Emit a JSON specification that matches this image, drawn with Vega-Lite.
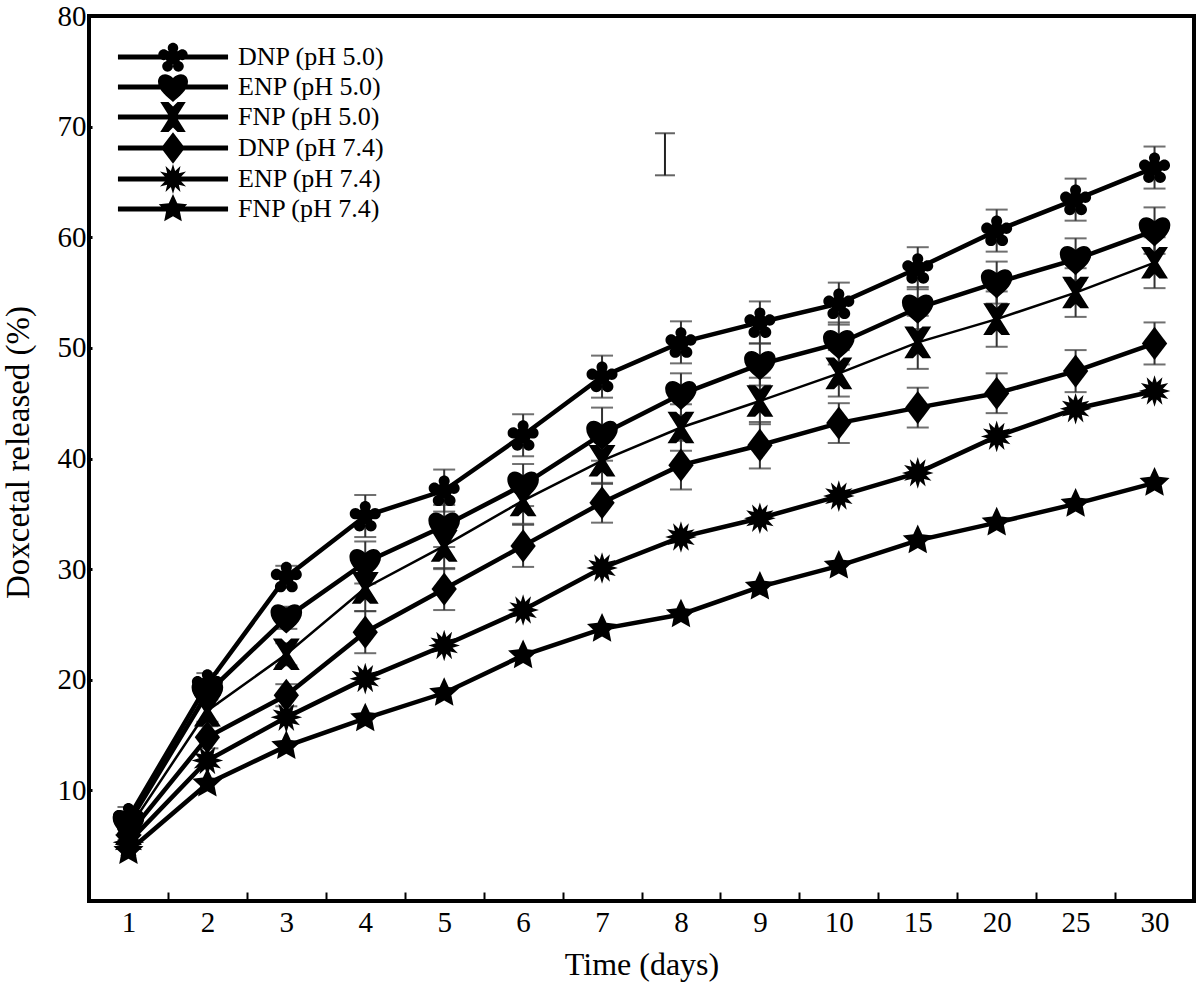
{
  "$schema": "https://vega.github.io/schema/vega-lite/v6.json",
  "width": 1105,
  "height": 885,
  "autosize": {"type": "none"},
  "padding": {"left": 89, "top": 16, "right": 6, "bottom": 86},
  "background": "white",
  "config": {
    "view": {"stroke": "black", "strokeWidth": 4},
    "font": "Liberation Serif"
  },
  "resolve": {"scale": {"shape": "independent"}, "legend": {"shape": "independent"}},
  "datasets": {
    "release": [
      {"series": "DNP (pH 5.0)", "day": "1", "value": 7.5, "err": 1.0},
      {"series": "DNP (pH 5.0)", "day": "2", "value": 19.6, "err": 1.0},
      {"series": "DNP (pH 5.0)", "day": "3", "value": 29.3, "err": 1.0},
      {"series": "DNP (pH 5.0)", "day": "4", "value": 34.8, "err": 1.9},
      {"series": "DNP (pH 5.0)", "day": "5", "value": 37.1, "err": 1.9},
      {"series": "DNP (pH 5.0)", "day": "6", "value": 42.1, "err": 1.9},
      {"series": "DNP (pH 5.0)", "day": "7", "value": 47.4, "err": 1.9},
      {"series": "DNP (pH 5.0)", "day": "8", "value": 50.5, "err": 1.9},
      {"series": "DNP (pH 5.0)", "day": "9", "value": 52.3, "err": 1.9},
      {"series": "DNP (pH 5.0)", "day": "10", "value": 54.0, "err": 1.9},
      {"series": "DNP (pH 5.0)", "day": "15", "value": 57.2, "err": 1.9},
      {"series": "DNP (pH 5.0)", "day": "20", "value": 60.6, "err": 1.9},
      {"series": "DNP (pH 5.0)", "day": "25", "value": 63.4, "err": 1.9},
      {"series": "DNP (pH 5.0)", "day": "30", "value": 66.3, "err": 1.9},
      {"series": "ENP (pH 5.0)", "day": "1", "value": 7.0, "err": 1.0},
      {"series": "ENP (pH 5.0)", "day": "2", "value": 18.8, "err": 1.0},
      {"series": "ENP (pH 5.0)", "day": "3", "value": 25.6, "err": 1.0},
      {"series": "ENP (pH 5.0)", "day": "4", "value": 30.6, "err": 1.9},
      {"series": "ENP (pH 5.0)", "day": "5", "value": 33.9, "err": 1.9},
      {"series": "ENP (pH 5.0)", "day": "6", "value": 37.6, "err": 1.9},
      {"series": "ENP (pH 5.0)", "day": "7", "value": 42.2, "err": 2.4},
      {"series": "ENP (pH 5.0)", "day": "8", "value": 45.8, "err": 1.9},
      {"series": "ENP (pH 5.0)", "day": "9", "value": 48.5, "err": 1.9},
      {"series": "ENP (pH 5.0)", "day": "10", "value": 50.4, "err": 1.9},
      {"series": "ENP (pH 5.0)", "day": "15", "value": 53.6, "err": 1.9},
      {"series": "ENP (pH 5.0)", "day": "20", "value": 55.9, "err": 1.9},
      {"series": "ENP (pH 5.0)", "day": "25", "value": 58.0, "err": 1.9},
      {"series": "ENP (pH 5.0)", "day": "30", "value": 60.6, "err": 2.1},
      {"series": "FNP (pH 5.0)", "day": "1", "value": 6.5, "err": 1.0},
      {"series": "FNP (pH 5.0)", "day": "2", "value": 17.2, "err": 1.0},
      {"series": "FNP (pH 5.0)", "day": "3", "value": 22.3, "err": 1.0},
      {"series": "FNP (pH 5.0)", "day": "4", "value": 28.3, "err": 2.1},
      {"series": "FNP (pH 5.0)", "day": "5", "value": 32.1, "err": 2.1},
      {"series": "FNP (pH 5.0)", "day": "6", "value": 36.2, "err": 2.1},
      {"series": "FNP (pH 5.0)", "day": "7", "value": 39.8, "err": 2.1},
      {"series": "FNP (pH 5.0)", "day": "8", "value": 42.8, "err": 2.1},
      {"series": "FNP (pH 5.0)", "day": "9", "value": 45.2, "err": 2.1},
      {"series": "FNP (pH 5.0)", "day": "10", "value": 47.7, "err": 2.1},
      {"series": "FNP (pH 5.0)", "day": "15", "value": 50.5, "err": 2.4},
      {"series": "FNP (pH 5.0)", "day": "20", "value": 52.6, "err": 2.5},
      {"series": "FNP (pH 5.0)", "day": "25", "value": 55.0, "err": 2.2},
      {"series": "FNP (pH 5.0)", "day": "30", "value": 57.7, "err": 2.3},
      {"series": "DNP (pH 7.4)", "day": "1", "value": 6.0, "err": 1.0},
      {"series": "DNP (pH 7.4)", "day": "2", "value": 14.8, "err": 1.0},
      {"series": "DNP (pH 7.4)", "day": "3", "value": 18.6, "err": 1.0},
      {"series": "DNP (pH 7.4)", "day": "4", "value": 24.3, "err": 1.9},
      {"series": "DNP (pH 7.4)", "day": "5", "value": 28.2, "err": 1.9},
      {"series": "DNP (pH 7.4)", "day": "6", "value": 32.1, "err": 1.9},
      {"series": "DNP (pH 7.4)", "day": "7", "value": 36.0, "err": 1.8},
      {"series": "DNP (pH 7.4)", "day": "8", "value": 39.4, "err": 2.2},
      {"series": "DNP (pH 7.4)", "day": "9", "value": 41.2, "err": 2.1},
      {"series": "DNP (pH 7.4)", "day": "10", "value": 43.2, "err": 1.8},
      {"series": "DNP (pH 7.4)", "day": "15", "value": 44.6, "err": 1.8},
      {"series": "DNP (pH 7.4)", "day": "20", "value": 45.9, "err": 1.8},
      {"series": "DNP (pH 7.4)", "day": "25", "value": 47.9, "err": 1.9},
      {"series": "DNP (pH 7.4)", "day": "30", "value": 50.4, "err": 1.9},
      {"series": "ENP (pH 7.4)", "day": "1", "value": 5.3},
      {"series": "ENP (pH 7.4)", "day": "2", "value": 12.7},
      {"series": "ENP (pH 7.4)", "day": "3", "value": 16.6},
      {"series": "ENP (pH 7.4)", "day": "4", "value": 20.1},
      {"series": "ENP (pH 7.4)", "day": "5", "value": 23.1},
      {"series": "ENP (pH 7.4)", "day": "6", "value": 26.3},
      {"series": "ENP (pH 7.4)", "day": "7", "value": 30.1},
      {"series": "ENP (pH 7.4)", "day": "8", "value": 32.9},
      {"series": "ENP (pH 7.4)", "day": "9", "value": 34.6},
      {"series": "ENP (pH 7.4)", "day": "10", "value": 36.6},
      {"series": "ENP (pH 7.4)", "day": "15", "value": 38.7},
      {"series": "ENP (pH 7.4)", "day": "20", "value": 42.0},
      {"series": "ENP (pH 7.4)", "day": "25", "value": 44.5},
      {"series": "ENP (pH 7.4)", "day": "30", "value": 46.1},
      {"series": "FNP (pH 7.4)", "day": "1", "value": 4.5},
      {"series": "FNP (pH 7.4)", "day": "2", "value": 10.6},
      {"series": "FNP (pH 7.4)", "day": "3", "value": 14.0},
      {"series": "FNP (pH 7.4)", "day": "4", "value": 16.5},
      {"series": "FNP (pH 7.4)", "day": "5", "value": 18.8},
      {"series": "FNP (pH 7.4)", "day": "6", "value": 22.2},
      {"series": "FNP (pH 7.4)", "day": "7", "value": 24.6},
      {"series": "FNP (pH 7.4)", "day": "8", "value": 25.9},
      {"series": "FNP (pH 7.4)", "day": "9", "value": 28.4},
      {"series": "FNP (pH 7.4)", "day": "10", "value": 30.3},
      {"series": "FNP (pH 7.4)", "day": "15", "value": 32.6},
      {"series": "FNP (pH 7.4)", "day": "20", "value": 34.2},
      {"series": "FNP (pH 7.4)", "day": "25", "value": 35.9},
      {"series": "FNP (pH 7.4)", "day": "30", "value": 37.8}
    ],
    "scalebar": [
      {"day": "8", "value": 67.5, "err": 1.9}
    ]
  },
  "encoding": {
    "x": {
      "field": "day",
      "type": "ordinal",
      "scale": {
        "type": "band",
        "domain": ["1", "2", "3", "4", "5", "6", "7", "8", "9", "10", "15", "20", "25", "30"],
        "paddingInner": 0,
        "paddingOuter": 0
      },
      "axis": {
        "title": "Time (days)",
        "tickBand": "extent",
        "domain": false,
        "grid": false,
        "labelAngle": 0,
        "labelFont": "Liberation Serif",
        "labelFontSize": 29,
        "labelColor": "black",
        "labelPadding": 16,
        "tickColor": "black",
        "tickSize": -9,
        "tickWidth": 2,
        "titleFont": "Liberation Serif",
        "titleFontSize": 32,
        "titleFontWeight": "normal",
        "titleColor": "black",
        "titlePadding": 12
      }
    },
    "y": {
      "field": "value",
      "type": "quantitative",
      "scale": {"domain": [0, 80], "nice": false, "zero": false},
      "axis": {
        "title": "Doxcetal released (%)",
        "values": [10, 20, 30, 40, 50, 60, 70, 80],
        "domain": false,
        "grid": false,
        "labelFont": "Liberation Serif",
        "labelFontSize": 29,
        "labelColor": "black",
        "labelPadding": 6,
        "tickColor": "black",
        "tickSize": -3,
        "tickWidth": 3,
        "titleFont": "Liberation Serif",
        "titleFontSize": 33,
        "titleFontWeight": "normal",
        "titleColor": "black",
        "titleX": -54,
        "titleY": 436
      }
    }
  },
  "layer": [
    {
      "data": {"name": "release"},
      "transform": [{"filter": "isValid(datum.err)"}],
      "mark": {
        "type": "errorbar",
        "ticks": {"size": 22, "thickness": 2, "color": "#333333"},
        "rule": {"strokeWidth": 2, "color": "#333333"}
      },
      "encoding": {
        "yError": {"field": "err"}
      }
    },
    {
      "data": {"name": "scalebar"},
      "mark": {
        "type": "errorbar",
        "ticks": {"size": 20, "thickness": 2, "color": "#222222", "xOffset": -16},
        "rule": {"strokeWidth": 2, "color": "#222222", "xOffset": -16}
      },
      "encoding": {
        "yError": {"field": "err"}
      }
    },
    {
      "data": {"name": "release"},
      "mark": {"type": "line", "color": "black"},
      "encoding": {
        "detail": {"field": "series", "type": "nominal"},
        "strokeWidth": {
          "condition": {"test": "datum.series === 'FNP (pH 5.0)'", "value": 2.5},
          "value": 4.5
        }
      }
    },
    {
      "data": {"name": "release"},
      "mark": {"type": "point", "filled": true, "color": "black", "size": 1000, "opacity": 1, "strokeWidth": 0},
      "encoding": {
        "shape": {
          "field": "series",
          "type": "nominal",
          "scale": {
            "domain": ["DNP (pH 5.0)", "ENP (pH 5.0)", "FNP (pH 5.0)", "DNP (pH 7.4)", "ENP (pH 7.4)", "FNP (pH 7.4)"],
            "range": [
              "M-0.5,0 A0.5,0.5 0 1,1 0.5,0 A0.5,0.5 0 1,1 -0.5,0 Z M-0.35,-0.6 A0.35,0.35 0 1,1 0.35,-0.6 A0.35,0.35 0 1,1 -0.35,-0.6 Z M0.26,-0.15 A0.36,0.36 0 1,1 0.98,-0.15 A0.36,0.36 0 1,1 0.26,-0.15 Z M-0.98,-0.15 A0.36,0.36 0 1,1 -0.26,-0.15 A0.36,0.36 0 1,1 -0.98,-0.15 Z M0,0.62 A0.36,0.36 0 1,1 0.72,0.62 A0.36,0.36 0 1,1 0,0.62 Z M-0.72,0.62 A0.36,0.36 0 1,1 0,0.62 A0.36,0.36 0 1,1 -0.72,0.62 Z",
              "M0,1 C-0.35,0.65 -1,0.25 -1,-0.35 C-1,-0.85 -0.45,-1.05 0,-0.6 C0.45,-1.05 1,-0.85 1,-0.35 C1,0.25 0.35,0.65 0,1 Z",
              "M-0.85,-1 L-0.3,-1 L0,-0.7 L0.3,-1 L0.85,-1 L0.22,0 L0.85,1 L0.3,1 L0,0.7 L-0.3,1 L-0.85,1 L-0.22,0 Z",
              "M0,-1.05 L0.8,0 L0,1.05 L-0.8,0 Z",
              "M0,-1 L0.142,-0.531 L0.5,-0.866 L0.389,-0.389 L0.866,-0.5 L0.531,-0.142 L1,0 L0.531,0.142 L0.866,0.5 L0.389,0.389 L0.5,0.866 L0.142,0.531 L0,1 L-0.142,0.531 L-0.5,0.866 L-0.389,0.389 L-0.866,0.5 L-0.531,0.142 L-1,0 L-0.531,-0.142 L-0.866,-0.5 L-0.389,-0.389 L-0.5,-0.866 L-0.142,-0.531 Z",
              "M0,-1 L0.282,-0.388 L0.951,-0.309 L0.456,0.148 L0.588,0.809 L0,0.48 L-0.588,0.809 L-0.456,0.148 L-0.951,-0.309 L-0.282,-0.388 Z"
            ]
          },
          "legend": null
        }
      }
    },
    {
      "data": {"name": "release"},
      "mark": {"type": "point", "filled": true, "color": "black", "size": 900, "opacity": 0, "strokeWidth": 0},
      "encoding": {
        "shape": {
          "field": "series",
          "type": "nominal",
          "scale": {
            "domain": ["DNP (pH 5.0)", "ENP (pH 5.0)", "FNP (pH 5.0)", "DNP (pH 7.4)", "ENP (pH 7.4)", "FNP (pH 7.4)"],
            "range": [
              "M-0.5,0 A0.5,0.5 0 1,1 0.5,0 A0.5,0.5 0 1,1 -0.5,0 Z M-0.35,-0.6 A0.35,0.35 0 1,1 0.35,-0.6 A0.35,0.35 0 1,1 -0.35,-0.6 Z M0.26,-0.15 A0.36,0.36 0 1,1 0.98,-0.15 A0.36,0.36 0 1,1 0.26,-0.15 Z M-0.98,-0.15 A0.36,0.36 0 1,1 -0.26,-0.15 A0.36,0.36 0 1,1 -0.98,-0.15 Z M0,0.62 A0.36,0.36 0 1,1 0.72,0.62 A0.36,0.36 0 1,1 0,0.62 Z M-0.72,0.62 A0.36,0.36 0 1,1 0,0.62 A0.36,0.36 0 1,1 -0.72,0.62 Z M-3.67,-0.17 L3.67,-0.17 L3.67,0.17 L-3.67,0.17 Z",
              "M0,1 C-0.35,0.65 -1,0.25 -1,-0.35 C-1,-0.85 -0.45,-1.05 0,-0.6 C0.45,-1.05 1,-0.85 1,-0.35 C1,0.25 0.35,0.65 0,1 Z M-3.67,-0.17 L3.67,-0.17 L3.67,0.17 L-3.67,0.17 Z",
              "M-0.85,-1 L-0.3,-1 L0,-0.7 L0.3,-1 L0.85,-1 L0.22,0 L0.85,1 L0.3,1 L0,0.7 L-0.3,1 L-0.85,1 L-0.22,0 Z M-3.67,-0.17 L3.67,-0.17 L3.67,0.17 L-3.67,0.17 Z",
              "M0,-1.05 L0.8,0 L0,1.05 L-0.8,0 Z M-3.67,-0.17 L3.67,-0.17 L3.67,0.17 L-3.67,0.17 Z",
              "M0,-1 L0.142,-0.531 L0.5,-0.866 L0.389,-0.389 L0.866,-0.5 L0.531,-0.142 L1,0 L0.531,0.142 L0.866,0.5 L0.389,0.389 L0.5,0.866 L0.142,0.531 L0,1 L-0.142,0.531 L-0.5,0.866 L-0.389,0.389 L-0.866,0.5 L-0.531,0.142 L-1,0 L-0.531,-0.142 L-0.866,-0.5 L-0.389,-0.389 L-0.5,-0.866 L-0.142,-0.531 Z M-3.67,-0.17 L3.67,-0.17 L3.67,0.17 L-3.67,0.17 Z",
              "M0,-1 L0.282,-0.388 L0.951,-0.309 L0.456,0.148 L0.588,0.809 L0,0.48 L-0.588,0.809 L-0.456,0.148 L-0.951,-0.309 L-0.282,-0.388 Z M-3.67,-0.17 L3.67,-0.17 L3.67,0.17 L-3.67,0.17 Z"
            ]
          },
          "legend": {
            "title": null,
            "orient": "none",
            "legendX": 69,
            "legendY": 26,
            "symbolSize": 900,
            "symbolFillColor": "black",
            "symbolStrokeColor": "black",
            "symbolStrokeWidth": 0,
            "symbolOpacity": 1,
            "labelFont": "Liberation Serif",
            "labelFontSize": 26,
            "labelColor": "black",
            "labelOffset": 50,
            "rowPadding": 0
          }
        }
      }
    }
  ]
}
